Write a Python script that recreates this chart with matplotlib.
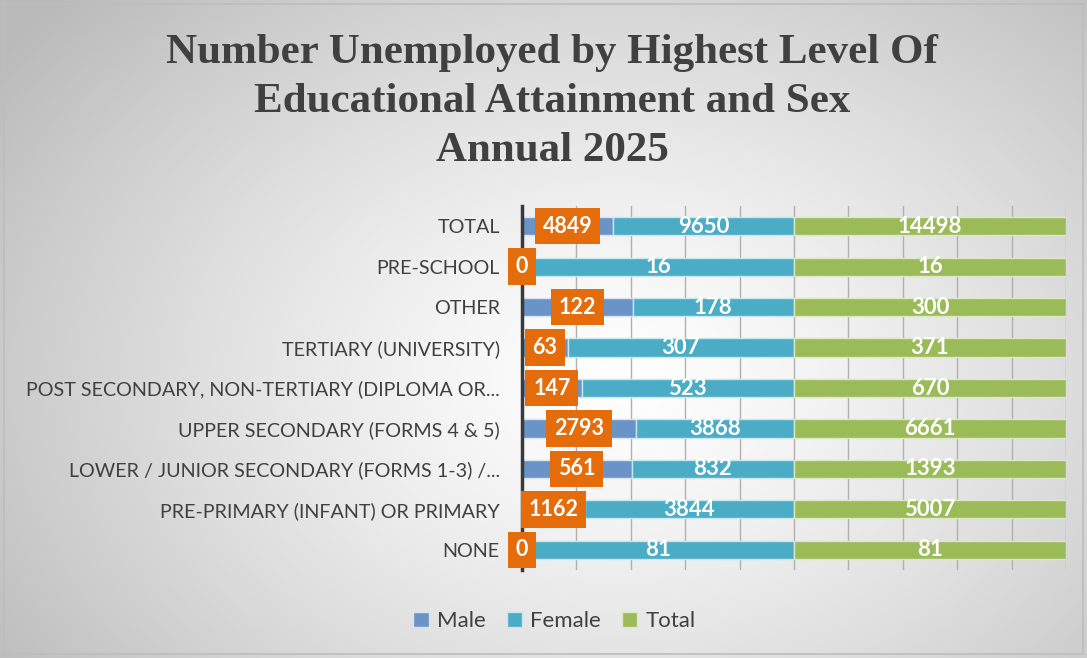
import numpy as np
import matplotlib
matplotlib.use("Agg")
import matplotlib.pyplot as plt
from matplotlib.patches import Rectangle

# categories bottom -> top (barh draws the first item at the bottom)
categories = ["NONE", "PRE-PRIMARY (INFANT) OR PRIMARY",
              "LOWER / JUNIOR SECONDARY (FORMS 1-3) /...",
              "UPPER SECONDARY (FORMS 4 & 5)",
              "POST SECONDARY, NON-TERTIARY (DIPLOMA OR...",
              "TERTIARY (UNIVERSITY)", "OTHER", "PRE-SCHOOL", "TOTAL"]
male = [0, 1162, 561, 2793, 147, 63, 122, 0, 4849]
female = [81, 3844, 832, 3868, 523, 307, 178, 16, 9650]
total = [81, 5007, 1393, 6661, 670, 371, 300, 16, 14498]

title = "Number Unemployed by Highest Level Of\nEducational Attainment and Sex\nAnnual 2025"

c_male = "#6a93c8"
c_female = "#4bacc6"
c_total = "#9bbb59"
c_box = "#e46c0a"
txt = "#404040"
lab_font = "Lato"

fig = plt.figure(figsize=(10.87, 6.58), dpi=100)

# radial grey background like the Excel chart area
bg = fig.add_axes([0, 0, 1, 1], zorder=-5)
yy, xx = np.mgrid[0:658, 0:1087]
r = np.sqrt(((xx - 620) / 760.0) ** 2 + ((yy - 380) / 560.0) ** 2)
shade = 1.0 - 0.27 * np.clip(r, 0, 1) ** 1.3
bg.imshow(np.dstack([shade] * 3), aspect="auto", extent=[0, 1, 0, 1])
bg.add_patch(Rectangle((0.004, 0.006), 0.992, 0.988, fill=False,
                       edgecolor="#bdbdbd", lw=1.2))
bg.set_xlim(0, 1)
bg.set_ylim(0, 1)
bg.axis("off")

ax = fig.add_axes([0.4802, 0.1337, 0.5005, 0.5532])
ax.patch.set_alpha(0)

m = np.array(male, float)
f = np.array(female, float)
t = np.array(total, float)
s = m + f + t
pm, pf, pt = m / s, f / s, t / s
y = np.arange(len(categories))
h = 0.45

ax.barh(y, pm, h, color=c_male, edgecolor="#d6e3f0", lw=1, label="Male", zorder=3)
ax.barh(y, pf, h, left=pm, color=c_female, edgecolor="#c8e6ee", lw=1,
        label="Female", zorder=3)
ax.barh(y, pt, h, left=pm + pf, color=c_total, edgecolor="#dbe8c5", lw=1,
        label="Total", zorder=3)

for i in range(len(categories)):
    ax.text(pm[i] / 2, y[i], str(male[i]), ha="center", va="center",
            color="white", fontsize=15.5, fontweight="bold", family=lab_font,
            zorder=6, clip_on=False,
            bbox=dict(boxstyle="square,pad=0.36", fc=c_box, ec="none"))
    ax.text(pm[i] + pf[i] / 2, y[i], str(female[i]), ha="center", va="center",
            color="white", fontsize=16, fontweight="bold", family=lab_font, zorder=5)
    ax.text(pm[i] + pf[i] + pt[i] / 2, y[i], str(total[i]), ha="center", va="center",
            color="white", fontsize=16, fontweight="bold", family=lab_font, zorder=5)

ax.set_xlim(0, 1)
ax.set_ylim(-0.5, len(categories) - 0.5)
ax.set_xticks(np.arange(0, 1.01, 0.1))
ax.set_xticklabels([])
ax.tick_params(axis="x", length=0)
ax.grid(axis="x", color="#b0b0b0", lw=1, zorder=0)
ax.set_yticks(y)
ax.set_yticklabels(categories, fontsize=14.2, color=txt, family=lab_font)
ax.tick_params(axis="y", length=0, pad=16)
for sp in ["top", "right", "bottom"]:
    ax.spines[sp].set_visible(False)
ax.spines["left"].set_color("#3a3a3a")
ax.spines["left"].set_linewidth(2.5)
ax.spines["left"].set_zorder(4)

fig.text(0.508, 0.845, title, ha="center", va="center", fontsize=31,
         fontweight="bold", family="Liberation Serif", color=txt,
         linespacing=1.38)

leg = fig.legend(loc="center", bbox_to_anchor=(0.51, 0.056), ncol=3,
                 frameon=False, prop={"family": lab_font, "size": 16},
                 handlelength=0.7, handleheight=0.7, handletextpad=0.35,
                 columnspacing=0.95)
for tx in leg.get_texts():
    tx.set_color(txt)

fig.savefig("out.png", dpi=100)
